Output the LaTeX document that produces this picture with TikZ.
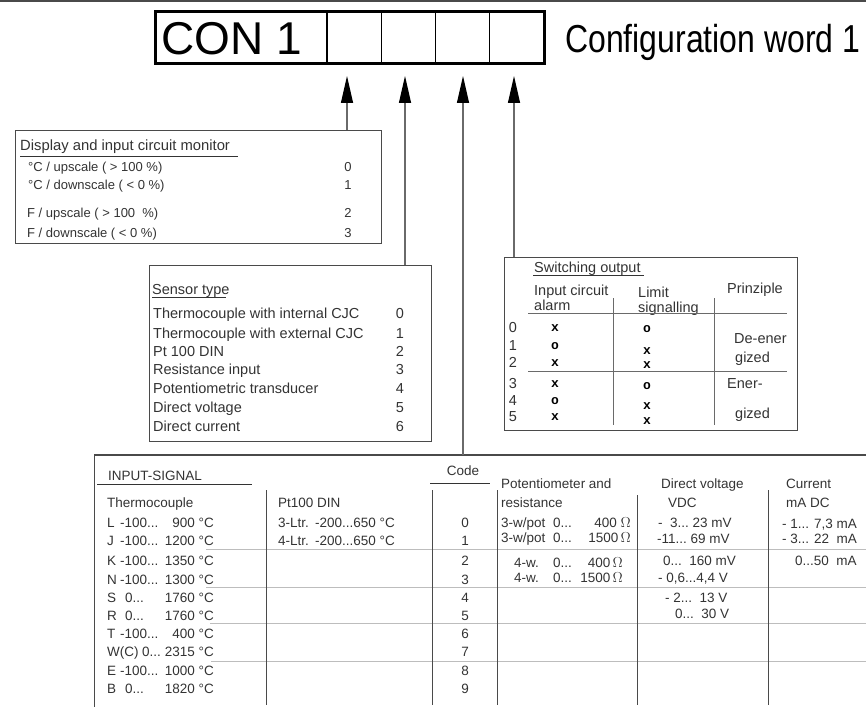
\documentclass[tikz,border=0pt]{standalone}
\usepackage{fontspec}
\setmainfont{Liberation Sans}
\newfontfamily\xofont{Liberation Mono}
\usepackage{tikz}
\usetikzlibrary{arrows.meta,calc,positioning}
\definecolor{inkgray}{HTML}{333333}
\definecolor{framegray}{HTML}{4A4A4A}
\definecolor{rulegray}{HTML}{BDBDBD}
\definecolor{stemgray}{HTML}{6A6A6A}
\newcommand{\smallfnt}{\fontsize{13}{15}\selectfont}
\newcommand{\midfnt}{\fontsize{14.5}{17}\selectfont}
\newcommand{\tabfnt}{\fontsize{13.5}{16}\selectfont}
\newcommand{\rdots}{...}
\tikzset{
  txt/.style={anchor=base west, inner sep=0pt, text=inkgray},
  num/.style={anchor=base, inner sep=0pt, text=inkgray},
  rtxt/.style={anchor=base east, inner sep=0pt, text=inkgray},
  frame/.style={draw=framegray, line width=1pt, inner sep=0pt, anchor=north west},
  sepline/.style={draw=rulegray, line width=1pt},
  colline/.style={draw=framegray, line width=1pt},
  uline/.style={draw=inkgray, line width=0.8pt},
  feed/.style={draw=stemgray, line width=1.2pt, -{Triangle[length=27pt,width=12pt,color=black]}},
  xomark/.style={anchor=base, inner sep=0pt, text=black, font=\xofont\bfseries\fontsize{13}{13}\selectfont}
}

\begin{document}
\begin{tikzpicture}[x=1pt,y=-1pt]
        \useasboundingbox (0,0) rectangle (866,711);
        %Top rule
        \draw[framegray, line width=2pt] (0,1) -- (866,1);
        %Configuration word
        \node[frame, draw=black, line width=3pt, minimum width=389pt, minimum height=52pt] (conbox) at (153.5,10.5) {};
        \draw[black, line width=2pt] (327,10.5) -- (327,62.5);
        \draw[black, line width=1pt] (381,10.5) -- (381,62.5);
        \draw[black, line width=1pt] (435,10.5) -- (435,62.5);
        \draw[black, line width=1pt] (489,10.5) -- (489,62.5);
        \node[txt, text=black, font=\fontsize{46}{46}\selectfont] (conlbl) at (161,55) {CON 1};
        \node[txt, text=black, font=\fontsize{39}{39}\selectfont] (cfgword) at (565,53) {\scalebox{0.82}[1]{Configuration word 1}};
        %Arrow tips
        \coordinate (tipA) at (347,76);
        \coordinate (tipB) at (405,76);
        \coordinate (tipC) at (463,76);
        \coordinate (tipD) at (514,76);
        %Boxes
        \node[frame, minimum width=366pt, minimum height=113pt] (dspbox) at (15,130) {};
        \node[frame, minimum width=282pt, minimum height=176pt] (snsbox) at (149,265) {};
        \node[frame, minimum width=293pt, minimum height=173pt] (swbox) at (504,257) {};
        \coordinate (tabcorner) at (94,455);
        \coordinate (tabend) at (866,455);
        \coordinate (tabfoot) at (94,707);
        \draw[colline, line width=1.5pt] (tabcorner) -- (tabend);
        \draw[colline] (tabcorner) -- (tabfoot);
        %Feeds
        \draw[feed] (dspbox.north -| tipA) -- (tipA);
        \draw[feed] (snsbox.north -| tipB) -- (tipB);
        \draw[feed] (tabcorner -| tipC) -- (tipC);
        \draw[feed] (swbox.north -| tipD) -- (tipD);
        %Display and input circuit monitor
        \node[txt, font=\fontsize{14.8}{16}\selectfont] (dsptitle) at (20,151) {Display and input circuit monitor};
        \draw[uline] (20,156) -- (238,156);
        \node[txt, font=\smallfnt] (dsp0) at (28,172) {°C / upscale ( > 100 \%)};
        \node[txt, font=\smallfnt] (dsp1) at (28,190) {°C / downscale ( < 0 \%)};
        \node[txt, font=\smallfnt] (dsp2) at (27,218) {F / upscale ( > 100 \ \%)};
        \node[txt, font=\smallfnt] (dsp3) at (27,237) {F / downscale ( < 0 \%)};
        \foreach \yy/\cd in {172/0,190/1,218/2,237/3}
          \node[num, font=\smallfnt] (dspc\cd) at (348,\yy) {\cd};
        %Sensor type
        \node[txt, font=\midfnt] (snstitle) at (152,294) {Sensor type};
        \draw[uline] (152,297) -- (226,297);
        \foreach \yy/\lbl/\cd in {318/Thermocouple with internal CJC/0, 338/Thermocouple with external CJC/1,
            356/Pt 100 DIN/2, 374/Resistance input/3, 393/Potentiometric transducer/4,
            412/Direct voltage/5, 431/Direct current/6}{
          \node[txt, font=\midfnt] (sns\cd) at (153,\yy) {\lbl};
          \node[num, font=\midfnt] (snsc\cd) at (400,\yy) {\cd};
        }
        %Switching output
        \node[txt, font=\midfnt] (swtitle) at (534,272) {Switching output};
        \draw[uline] (533,275) -- (644,275);
        \node[txt, font=\midfnt] (swin1) at (534,295) {Input circuit};
        \node[txt, font=\midfnt] (swin2) at (534,310) {alarm};
        \node[txt, font=\midfnt] (swlim1) at (638,297) {Limit};
        \node[txt, font=\midfnt] (swlim2) at (638,312) {signalling};
        \node[txt, font=\midfnt] (swpr) at (727,293) {Prinziple};
        \draw[colline, draw=stemgray, line width=0.8pt] (528,313) -- (787,313);
        \draw[colline, draw=stemgray, line width=0.8pt] (528,371) -- (787,371);
        \draw[colline, draw=stemgray, line width=0.8pt] (613,298) -- (613,425);
        \draw[colline, draw=stemgray, line width=0.8pt] (714,298) -- (714,425);
        \foreach \yy/\ya/\yb/\cd/\ma/\mb in {332/331/332/0/x/o, 350/349/354/1/o/x, 367/366/368/2/x/x,
            388/387/389/3/x/o, 405/404/409/4/o/x, 421/420/424/5/x/x}{
          \node[num, font=\midfnt] (swc\cd) at (513,\yy) {\cd};
          \node[xomark] (swa\cd) at (555,\ya) {\ma};
          \node[xomark] (swb\cd) at (647,\yb) {\mb};
        }
        \node[txt, font=\midfnt] (swde1) at (734,343) {De-ener};
        \node[txt, font=\midfnt] (swde2) at (735,362) {gized};
        \node[txt, font=\midfnt] (swen1) at (727,388) {Ener-};
        \node[txt, font=\midfnt] (swen2) at (735,418) {gized};
        %Input signal table
        \draw[sepline] (206,549) -- (866,549);
        \draw[sepline] (206,587) -- (866,587);
        \draw[sepline] (210,623) -- (866,623);
        \draw[sepline] (211,661) -- (866,661);
        \draw[colline] (266,490) -- (266,705);
        \draw[colline] (432,490) -- (432,705);
        \draw[colline] (497,490) -- (497,705);
        \draw[colline] (637,495) -- (637,705);
        \draw[colline] (768,490) -- (768,705);
        \node[txt, font=\tabfnt] (insig) at (108,480) {INPUT-SIGNAL};
        \draw[uline] (97,484) -- (252,484);
        \node[num, font=\tabfnt] (codehead) at (463,475) {Code};
        \draw[uline] (430,483) -- (490,483);
        \node[txt, font=\tabfnt] (tchead) at (107,507) {Thermocouple};
        \foreach \yy/\lt/\xs/\st/\en [count=\i] in {527/L/120/-100\rdots/900, 545/J/120/-100\rdots/1200,
            565/K/120/-100\rdots/1350, 584/N/120/-100\rdots/1300, 602/S/125/0\rdots/1760, 620/R/125/0\rdots/1760,
            638/T/120/-100\rdots/400, 656/W(C)/142/0\rdots/2315, 675/E/120/-100\rdots/1000, 693/B/125/0\rdots/1820}{
          \node[txt, font=\tabfnt] (tcl\i) at (107,\yy) {\lt};
          \node[txt, font=\tabfnt] (tcs\i) at (\xs,\yy) {\st};
          \node[rtxt, font=\tabfnt] (tce\i) at (214,\yy) {\en{} °C};
        }
        \foreach \yy [count=\i from 0] in {527,545,565,584,602,620,638,656,675,693}
          \node[num, font=\tabfnt] (code\i) at (465,\yy) {\i};
        \node[txt, font=\tabfnt] (pthead) at (278,507) {Pt100 DIN};
        \node[txt, font=\tabfnt] (pt3) at (278,527) {3-Ltr.};
        \node[txt, font=\tabfnt] (pt3r) at (315,527) {-200...650 °C};
        \node[txt, font=\tabfnt] (pt4) at (278,545) {4-Ltr.};
        \node[txt, font=\tabfnt] (pt4r) at (315,545) {-200...650 °C};
        \node[txt, font=\tabfnt] (pothead1) at (501,488) {Potentiometer and};
        \node[txt, font=\tabfnt] (pothead2) at (501,507) {resistance};
        \node[txt, font=\tabfnt] (pot1) at (501,527) {3-w/pot};
        \node[txt, font=\tabfnt] (pot1s) at (553,527) {0...};
        \node[rtxt, font=\tabfnt] (pot1v) at (631,527) {400 $\Omega$};
        \node[txt, font=\tabfnt] (pot2) at (501,542) {3-w/pot};
        \node[txt, font=\tabfnt] (pot2s) at (553,542) {0...};
        \node[rtxt, font=\tabfnt] (pot2v) at (631,542) {1500\,$\Omega$};
        \node[txt, font=\tabfnt] (pot3) at (514,567) {4-w.};
        \node[txt, font=\tabfnt] (pot3s) at (553,567) {0...};
        \node[rtxt, font=\tabfnt] (pot3v) at (623,567) {400\,$\Omega$};
        \node[txt, font=\tabfnt] (pot4) at (514,582) {4-w.};
        \node[txt, font=\tabfnt] (pot4s) at (553,582) {0...};
        \node[rtxt, font=\tabfnt] (pot4v) at (623,582) {1500\,$\Omega$};
        \node[txt, font=\tabfnt] (dvhead1) at (661,488) {Direct voltage};
        \node[txt, font=\tabfnt] (dvhead2) at (668,507) {VDC};
        \node[txt, font=\tabfnt] (dv1) at (658,527) {- \ 3...\ 23 mV};
        \node[txt, font=\tabfnt] (dv2) at (657,543) {-11...\ 69 mV};
        \node[txt, font=\tabfnt] (dv3) at (663,565) {0...\ \ 160 mV};
        \node[txt, font=\tabfnt] (dv4) at (658,582) {- 0,6...4,4 V};
        \node[txt, font=\tabfnt] (dv5) at (665,602) {- 2...\ \ 13 V};
        \node[txt, font=\tabfnt] (dv6) at (675,618) {0...\ \ 30 V};
        \node[txt, font=\tabfnt] (curhead1) at (786,488) {Current};
        \node[txt, font=\tabfnt] (curhead2) at (786,507) {mA DC};
        \node[txt, font=\tabfnt] (cur1) at (782,528) {- 1... 7,3 mA};
        \node[txt, font=\tabfnt] (cur2) at (782,543) {- 3... 22\ \ mA};
        \node[txt, font=\tabfnt] (cur3) at (795,565) {0...50\ \ mA};
\end{tikzpicture}
\end{document}
